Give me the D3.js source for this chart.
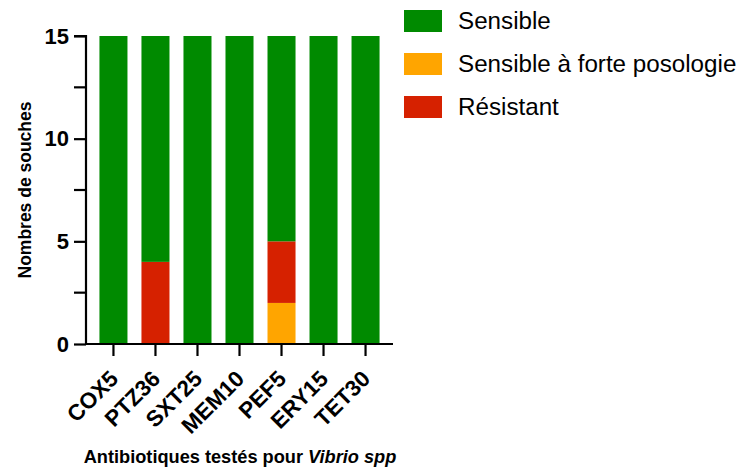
<!DOCTYPE html>
<html>
<head>
<meta charset="utf-8">
<script src="https://cdn.jsdelivr.net/npm/d3@7"></script>
<style>
  body { margin: 0; background: #fff; }
  svg { display: block; font-family: "Liberation Sans", Arial, Helvetica, sans-serif; }
</style>
</head>
<body>
<svg id="chart" width="746" height="468"></svg>
<script>
// Antibiotics tested and the strain counts per susceptibility class
const antibiotics = ["COX5", "PTZ36", "SXT25", "MEM10", "PEF5", "ERY15", "TET30"];
const forteDose   = [0, 0, 0, 0, 2, 0, 0];   // Sensible à forte posologie
const resistant   = [0, 4, 0, 0, 3, 0, 0];   // Résistant
const sensible    = [15, 11, 15, 15, 10, 15, 15]; // Sensible
const yTicks = [0, 5, 10, 15];
const yMinorTicks = [2.5, 7.5, 12.5];

const seriesKeys = ["forte", "resistant", "sensible"];
const seriesLabels = {
  sensible: "Sensible",
  forte: "Sensible à forte posologie",
  resistant: "Résistant"
};
const colors = { sensible: "#008a00", forte: "#ffa500", resistant: "#d62100" };
const legendOrder = ["sensible", "forte", "resistant"];

const rows = antibiotics.map((a, i) => ({
  name: a, forte: forteDose[i], resistant: resistant[i], sensible: sensible[i]
}));

const svg = d3.select("#chart");
const plotLeft = 86, plotRight = 393, plotTop = 36, plotBottom = 344;

const x = d3.scaleBand().domain(antibiotics).range([plotLeft, plotRight])
  .paddingInner(0.333).paddingOuter(0.32);
const y = d3.scaleLinear().domain([0, 15]).range([plotBottom, plotTop]);

const stacked = d3.stack().keys(seriesKeys)(rows);

svg.append("g").selectAll("g").data(stacked).join("g")
  .attr("fill", d => colors[d.key])
  .selectAll("rect").data(d => d).join("rect")
  .attr("x", d => x(d.data.name))
  .attr("width", x.bandwidth())
  .attr("y", d => y(d[1]))
  .attr("height", d => y(d[0]) - y(d[1]));

// Y axis
const yAxis = svg.append("g").attr("transform", `translate(${plotLeft},0)`)
  .call(d3.axisLeft(y).tickValues(yTicks).tickSize(12).tickPadding(5));
yAxis.append("g").selectAll("line").data(yMinorTicks).join("line")
  .attr("x1", -12).attr("x2", 0)
  .attr("y1", d => y(d)).attr("y2", d => y(d));
yAxis.select(".domain").attr("d", `M-12,${y(15)}H0V${y(0)}`);
yAxis.selectAll("line").attr("stroke", "#000").attr("stroke-width", 2.2);
yAxis.select(".domain").attr("stroke", "#000").attr("stroke-width", 2.2);
yAxis.selectAll("text")
  .attr("font-size", 22).attr("font-weight", "bold").attr("fill", "#000")
  .attr("font-family", "'Liberation Sans', Arial, sans-serif");

// X axis
const xAxis = svg.append("g").attr("transform", `translate(0,${plotBottom})`)
  .call(d3.axisBottom(x).tickSize(12).tickSizeOuter(0));
xAxis.select(".domain").attr("d", `M${plotLeft},0H${plotRight}`)
  .attr("stroke", "#000").attr("stroke-width", 2.2);
xAxis.selectAll("line").attr("stroke", "#000").attr("stroke-width", 2.2);
xAxis.selectAll("text")
  .attr("font-size", 22.5).attr("font-weight", "bold").attr("fill", "#000")
  .attr("font-family", "'Liberation Sans', Arial, sans-serif")
  .attr("text-anchor", "end")
  .attr("transform", "translate(-10,20) rotate(-45)")
  .attr("dy", "0.35em");

// Axis titles
svg.append("text")
  .attr("transform", `translate(31,${(plotTop + plotBottom) / 2}) rotate(-90)`)
  .attr("text-anchor", "middle")
  .attr("font-size", 17.5).attr("font-weight", "bold")
  .text("Nombres de souches");

const xt = svg.append("text")
  .attr("x", 240).attr("y", 463)
  .attr("text-anchor", "middle")
  .attr("font-size", 18.2).attr("font-weight", "bold");
xt.append("tspan").text("Antibiotiques testés pour ");
xt.append("tspan").attr("font-style", "italic").text("Vibrio spp");

// Legend
const legend = svg.append("g").attr("transform", "translate(404,10)");
const items = legend.selectAll("g").data(legendOrder).join("g")
  .attr("transform", (d, i) => `translate(0,${i * 43})`);
items.append("rect").attr("width", 38).attr("height", 22)
  .attr("fill", d => colors[d]);
items.append("text").attr("x", 54).attr("y", 11).attr("dy", "0.35em")
  .attr("font-size", 24.2).attr("fill", "#000")
  .text(d => seriesLabels[d]);
</script>
</body>
</html>
